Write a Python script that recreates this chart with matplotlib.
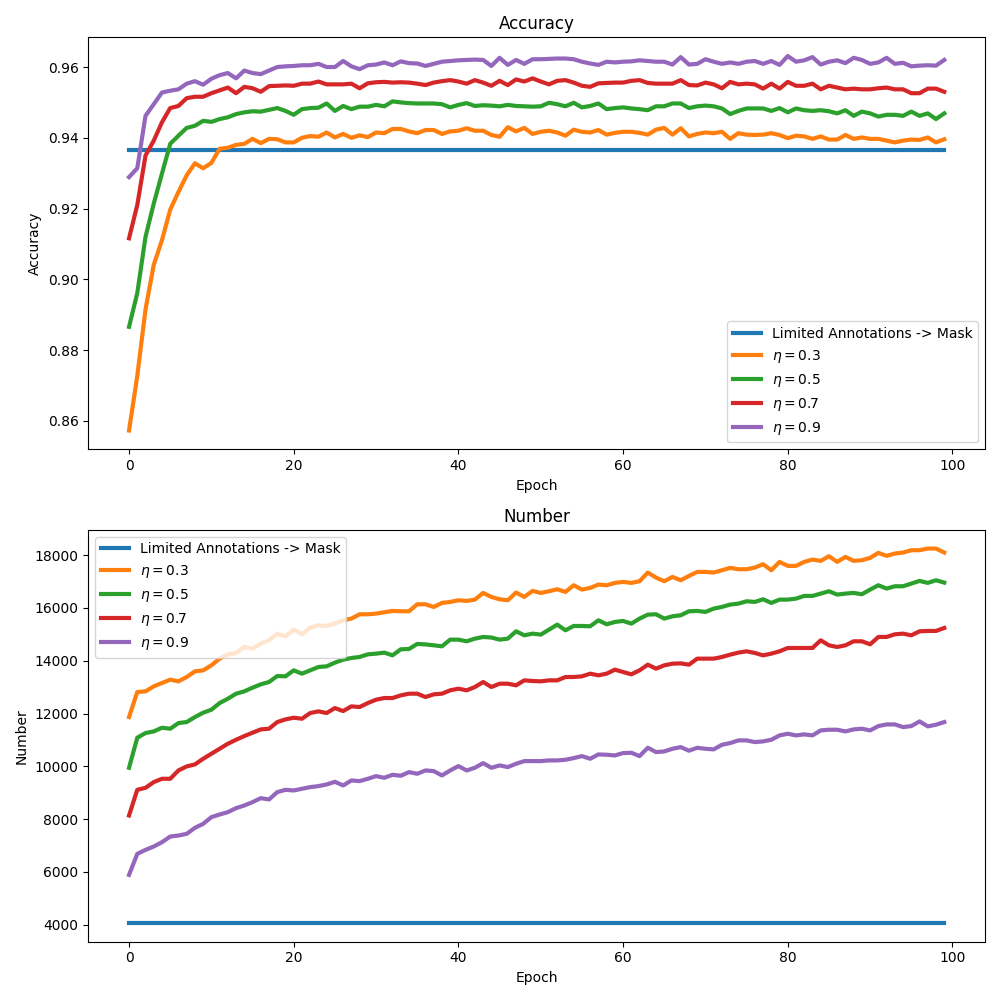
import matplotlib
matplotlib.use("Agg")
import matplotlib.pyplot as plt

epochs = list(range(100))
labels = ['Limited Annotations -> Mask', r'$\eta=0.3$', r'$\eta=0.5$', r'$\eta=0.7$', r'$\eta=0.9$']

baseline_acc = 0.9365
baseline_num = 4060

acc_03 = [0.8573, 0.8727, 0.8915, 0.9041, 0.9111, 0.9197, 0.9247, 0.9294, 0.9328, 0.9314,
          0.9329, 0.9369, 0.9372, 0.9380, 0.9383, 0.9397, 0.9385, 0.9397, 0.9396, 0.9387,
          0.9387, 0.9400, 0.9405, 0.9403, 0.9415, 0.9401, 0.9411, 0.9400, 0.9407, 0.9402,
          0.9415, 0.9413, 0.9425, 0.9425, 0.9418, 0.9413, 0.9422, 0.9422, 0.9411, 0.9418,
          0.9420, 0.9427, 0.9420, 0.9420, 0.9408, 0.9403, 0.9430, 0.9418, 0.9428, 0.9411,
          0.9417, 0.9420, 0.9415, 0.9406, 0.9423, 0.9417, 0.9415, 0.9422, 0.9409, 0.9414,
          0.9417, 0.9417, 0.9414, 0.9409, 0.9423, 0.9428, 0.9409, 0.9427, 0.9404, 0.9411,
          0.9415, 0.9413, 0.9417, 0.9397, 0.9413, 0.9409, 0.9408, 0.9409, 0.9413, 0.9408,
          0.9399, 0.9406, 0.9404, 0.9397, 0.9404, 0.9395, 0.9395, 0.9408, 0.9397, 0.9401,
          0.9397, 0.9397, 0.9392, 0.9387, 0.9392, 0.9395, 0.9394, 0.9401, 0.9387, 0.9396]

acc_05 = [0.8866, 0.8961, 0.9120, 0.9214, 0.9299, 0.9383, 0.9406, 0.9428, 0.9434, 0.9448,
          0.9445, 0.9453, 0.9458, 0.9467, 0.9472, 0.9475, 0.9474, 0.9479, 0.9484, 0.9476,
          0.9465, 0.9481, 0.9484, 0.9485, 0.9497, 0.9476, 0.9490, 0.9481, 0.9488, 0.9488,
          0.9493, 0.9489, 0.9503, 0.9500, 0.9498, 0.9497, 0.9497, 0.9497, 0.9495, 0.9486,
          0.9493, 0.9498, 0.9490, 0.9492, 0.9491, 0.9489, 0.9493, 0.9490, 0.9489, 0.9488,
          0.9489, 0.9499, 0.9495, 0.9489, 0.9499, 0.9486, 0.9490, 0.9497, 0.9481, 0.9484,
          0.9486, 0.9483, 0.9481, 0.9478, 0.9489, 0.9489, 0.9497, 0.9497, 0.9484, 0.9489,
          0.9491, 0.9489, 0.9483, 0.9467, 0.9476, 0.9483, 0.9483, 0.9483, 0.9476, 0.9484,
          0.9472, 0.9483, 0.9478, 0.9476, 0.9478, 0.9475, 0.9469, 0.9478, 0.9462, 0.9474,
          0.9469, 0.9460, 0.9465, 0.9465, 0.9462, 0.9474, 0.9462, 0.9469, 0.9453, 0.9469]

acc_07 = [0.9116, 0.9210, 0.9350, 0.9392, 0.9444, 0.9484, 0.9490, 0.9512, 0.9516, 0.9516,
          0.9526, 0.9534, 0.9542, 0.9526, 0.9544, 0.9540, 0.9530, 0.9546, 0.9547, 0.9548,
          0.9547, 0.9553, 0.9553, 0.9559, 0.9551, 0.9551, 0.9551, 0.9553, 0.9540, 0.9554,
          0.9557, 0.9558, 0.9556, 0.9557, 0.9556, 0.9553, 0.9549, 0.9556, 0.9560, 0.9563,
          0.9559, 0.9553, 0.9563, 0.9556, 0.9547, 0.9561, 0.9549, 0.9565, 0.9559, 0.9568,
          0.9559, 0.9551, 0.9561, 0.9563, 0.9556, 0.9547, 0.9544, 0.9554, 0.9555, 0.9556,
          0.9556, 0.9561, 0.9563, 0.9555, 0.9553, 0.9553, 0.9553, 0.9563, 0.9549, 0.9548,
          0.9556, 0.9551, 0.9540, 0.9558, 0.9551, 0.9553, 0.9551, 0.9539, 0.9553, 0.9539,
          0.9558, 0.9547, 0.9547, 0.9553, 0.9537, 0.9547, 0.9542, 0.9537, 0.9539, 0.9537,
          0.9537, 0.9540, 0.9542, 0.9537, 0.9537, 0.9526, 0.9526, 0.9539, 0.9539, 0.9530]

acc_09 = [0.9289, 0.9314, 0.9462, 0.9495, 0.9528, 0.9533, 0.9537, 0.9553, 0.9560, 0.9550,
          0.9567, 0.9577, 0.9583, 0.9568, 0.9590, 0.9583, 0.9580, 0.9590, 0.9600, 0.9602,
          0.9603, 0.9605, 0.9605, 0.9609, 0.9600, 0.9600, 0.9617, 0.9602, 0.9594, 0.9605,
          0.9607, 0.9613, 0.9605, 0.9616, 0.9611, 0.9610, 0.9603, 0.9609, 0.9615, 0.9617,
          0.9619, 0.9620, 0.9621, 0.9620, 0.9603, 0.9626, 0.9606, 0.9620, 0.9609, 0.9622,
          0.9622, 0.9623, 0.9624, 0.9624, 0.9622, 0.9615, 0.9610, 0.9606, 0.9615, 0.9613,
          0.9615, 0.9616, 0.9619, 0.9617, 0.9615, 0.9615, 0.9607, 0.9628, 0.9607, 0.9609,
          0.9622, 0.9615, 0.9609, 0.9613, 0.9609, 0.9615, 0.9617, 0.9609, 0.9617, 0.9606,
          0.9631, 0.9615, 0.9619, 0.9628, 0.9607, 0.9615, 0.9619, 0.9611, 0.9626, 0.9620,
          0.9609, 0.9613, 0.9626, 0.9609, 0.9612, 0.9602, 0.9604, 0.9605, 0.9604, 0.9620]

num_03 = [11866, 12814, 12840, 13029, 13156, 13282, 13219, 13383, 13598, 13636,
          13826, 14079, 14243, 14294, 14522, 14458, 14648, 14775, 15027, 14926,
          15179, 15002, 15255, 15344, 15318, 15407, 15533, 15597, 15761, 15761,
          15786, 15837, 15888, 15875, 15875, 16140, 16140, 16039, 16191, 16229,
          16292, 16267, 16317, 16570, 16419, 16330, 16292, 16583, 16419, 16646,
          16570, 16634, 16710, 16608, 16861, 16697, 16760, 16887, 16861, 16950,
          16988, 16950, 17013, 17342, 17152, 17013, 17177, 17051, 17215, 17367,
          17367, 17342, 17430, 17519, 17468, 17468, 17532, 17658, 17430, 17747,
          17595, 17595, 17747, 17835, 17785, 17961, 17747, 17936, 17785, 17810,
          17898, 18088, 17974, 18063, 18101, 18189, 18189, 18252, 18252, 18101]

num_05 = [9943, 11082, 11259, 11322, 11461, 11423, 11638, 11676, 11866, 12030,
          12144, 12397, 12561, 12751, 12840, 12979, 13105, 13194, 13421, 13409,
          13636, 13510, 13636, 13763, 13788, 13927, 14041, 14104, 14142, 14243,
          14269, 14307, 14205, 14433, 14446, 14636, 14620, 14585, 14547, 14800,
          14800, 14737, 14838, 14901, 14880, 14800, 14838, 15116, 14964, 15027,
          14990, 15179, 15369, 15154, 15318, 15318, 15306, 15533, 15382, 15470,
          15508, 15407, 15597, 15748, 15761, 15597, 15685, 15723, 15875, 15888,
          15849, 15976, 16039, 16128, 16166, 16254, 16229, 16330, 16191, 16317,
          16317, 16355, 16457, 16457, 16545, 16634, 16507, 16545, 16570, 16520,
          16697, 16861, 16735, 16823, 16823, 16925, 17026, 16950, 17051, 16962]

num_07 = [8135, 9108, 9184, 9400, 9526, 9526, 9842, 9994, 10070, 10285,
          10475, 10664, 10854, 11006, 11145, 11272, 11398, 11423, 11676, 11777,
          11840, 11803, 12018, 12081, 12018, 12207, 12093, 12271, 12245, 12397,
          12524, 12587, 12587, 12688, 12751, 12751, 12625, 12726, 12751, 12878,
          12941, 12878, 13004, 13194, 13004, 13130, 13130, 13067, 13257, 13232,
          13219, 13257, 13257, 13383, 13383, 13409, 13510, 13447, 13510, 13662,
          13573, 13485, 13636, 13851, 13700, 13826, 13889, 13900, 13851, 14079,
          14079, 14079, 14142, 14231, 14307, 14357, 14294, 14205, 14269, 14357,
          14484, 14484, 14484, 14484, 14774, 14585, 14522, 14585, 14737, 14737,
          14623, 14901, 14901, 15002, 15027, 14964, 15116, 15129, 15129, 15243]

num_09 = [5884, 6680, 6832, 6959, 7123, 7338, 7376, 7439, 7667, 7819,
          8072, 8173, 8261, 8413, 8514, 8641, 8792, 8742, 9020, 9108,
          9083, 9147, 9210, 9248, 9311, 9412, 9273, 9463, 9438, 9526,
          9627, 9564, 9678, 9640, 9779, 9716, 9842, 9817, 9653, 9842,
          10007, 9842, 9943, 10120, 9943, 10032, 9969, 10095, 10196, 10196,
          10196, 10222, 10222, 10247, 10310, 10386, 10285, 10450, 10437, 10411,
          10500, 10512, 10386, 10702, 10538, 10563, 10664, 10727, 10590, 10700,
          10664, 10639, 10816, 10879, 10981, 10981, 10917, 10943, 11006, 11170,
          11233, 11170, 11208, 11170, 11360, 11385, 11385, 11322, 11398, 11423,
          11360, 11524, 11587, 11587, 11486, 11524, 11701, 11512, 11575, 11676]


fig, (ax1, ax2) = plt.subplots(2, 1, figsize=(10, 10), dpi=100)

acc_series = [[baseline_acc] * len(epochs), acc_03, acc_05, acc_07, acc_09]
for vals, lab in zip(acc_series, labels):
    ax1.plot(epochs, vals, linewidth=3, label=lab)
ax1.set_title('Accuracy')
ax1.set_xlabel('Epoch')
ax1.set_ylabel('Accuracy')
ax1.legend(loc='lower right')

num_series = [[baseline_num] * len(epochs), num_03, num_05, num_07, num_09]
for vals, lab in zip(num_series, labels):
    ax2.plot(epochs, vals, linewidth=3, label=lab)
ax2.set_title('Number')
ax2.set_xlabel('Epoch')
ax2.set_ylabel('Number')
ax2.legend(loc='upper left')

plt.tight_layout()
plt.savefig('out.png')
